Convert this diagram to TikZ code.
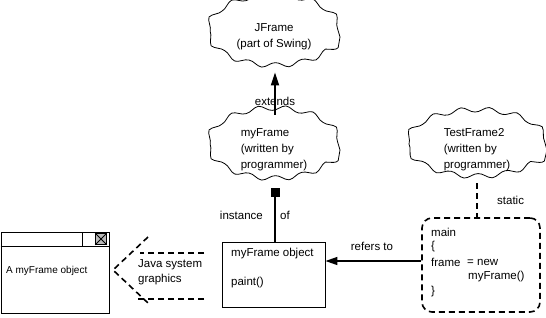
\documentclass[tikz,border=0pt]{standalone}
\usepackage{fontspec}
\setmainfont{Liberation Sans}
\usetikzlibrary{shapes.geometric,decorations.pathmorphing,arrows.meta}
\begin{document}
\begin{tikzpicture}[x=1pt,y=-1pt,
  font=\fontsize{11.5}{16}\selectfont,
  cloudy/.style={ellipse, draw, line width=0.8pt, inner sep=0pt,
    minimum width=132pt, minimum height=70pt,
    decorate, decoration={snake, segment length=27.05pt, amplitude=2.5pt}},
  dashline/.style={line width=1.6pt, dash pattern=on 6pt off 4pt},
  boxy/.style={draw, line width=0.9pt, inner sep=0pt},
  txt/.style={anchor=west, inner sep=0pt}]
\useasboundingbox (0,0) rectangle (546,317);

% clouds
\node[cloudy, align=center] (jframe) at (274,37) {JFrame\\(part of Swing)};
\node[cloudy, align=left] (myframe) at (274,150) {myFrame\\(written by\\programmer)};
\node[cloudy, align=left, minimum width=140pt, minimum height=66pt,
  decoration={snake, segment length=27.8pt, amplitude=2.5pt}] (test) at (477,150) {TestFrame2\\(written by\\programmer)};

% extends
\node (ext) at (275,101) {extends};
\draw[line width=1.8pt, -{Triangle[length=13pt,width=8pt]}] (myframe.north -| 275,0) -- (jframe.south -| 275,0);

% myFrame object box
\node[boxy, minimum width=103pt, minimum height=65pt] (obj) at (273.5,274.5) {};
\node[txt] (objt) at (231,254) {myFrame object};
\node[txt] (paint) at (231,283) {paint()};

% instance of
\coordinate (sq) at ([yshift=-3pt]myframe.south -| 275,0);
\draw[line width=1.8pt, {Square[length=9pt,width=9pt]}-] (sq) -- (sq |- obj.north);
\node[anchor=east, inner sep=0pt] (inst) at (263,215) {instance};
\node[txt] (of) at (280,215) {of};

% code box
\node[draw, dashline, rounded corners=10pt, minimum width=118pt, minimum height=94pt] (code) at (481,265) {};
\node[txt] (c1) at (431,232) {main};
\node[txt] (c2) at (431,247) {\{};
\node[txt] (c3) at (431,262) {frame};
\node[txt] (c4) at (467,262) {= new};
\node[txt] (c5) at (468,277) {myFrame()};
\node[txt] (c6) at (431,292) {\}};

% static
\draw[dashline] (test.south) -- (test.south |- code.north);
\node[txt] (static) at (497,200) {static};

% refers to
\coordinate (rt) at (code.west |- 0,261);
\draw[line width=1.5pt, -{Triangle[length=12pt,width=8pt]}] (rt) -- (obj.east |- rt);
\node (reft) at (372,246) {refers to};

% window
\node[boxy, minimum width=108pt, minimum height=81pt, anchor=north west] (win) at (0.5,232) {};
\draw[line width=0.9pt] (win.west |- 0,246) -- (win.east |- 0,246);
\draw[line width=0.9pt] (82,232) -- (82,246);
\node[draw, line width=0.6pt, fill=gray!55, minimum size=11pt, inner sep=0pt] (close) at (101,239) {};
\draw[line width=0.8pt] (close.north west) -- (close.south east) (close.north east) -- (close.south west);
\node[txt, font=\fontsize{10}{12}\selectfont] (wint) at (6,271) {A myFrame object};

% Java system graphics
\node[txt, align=left, font=\fontsize{11.5}{14.5}\selectfont] (jsg) at (138,272) {Java system\\graphics};
\coordinate (u1) at (204,253); \coordinate (u2) at (140,253);
\coordinate (l1) at (204,299); \coordinate (l2) at (137,299);
\coordinate (ct) at (148,237); \coordinate (ap) at (113,270); \coordinate (cb) at (148,303);
\draw[dashline] (u1) -- (u2);
\draw[dashline] (l1) -- (l2);
\draw[dashline] (ct) -- (ap) -- (cb);
\end{tikzpicture}
\end{document}
